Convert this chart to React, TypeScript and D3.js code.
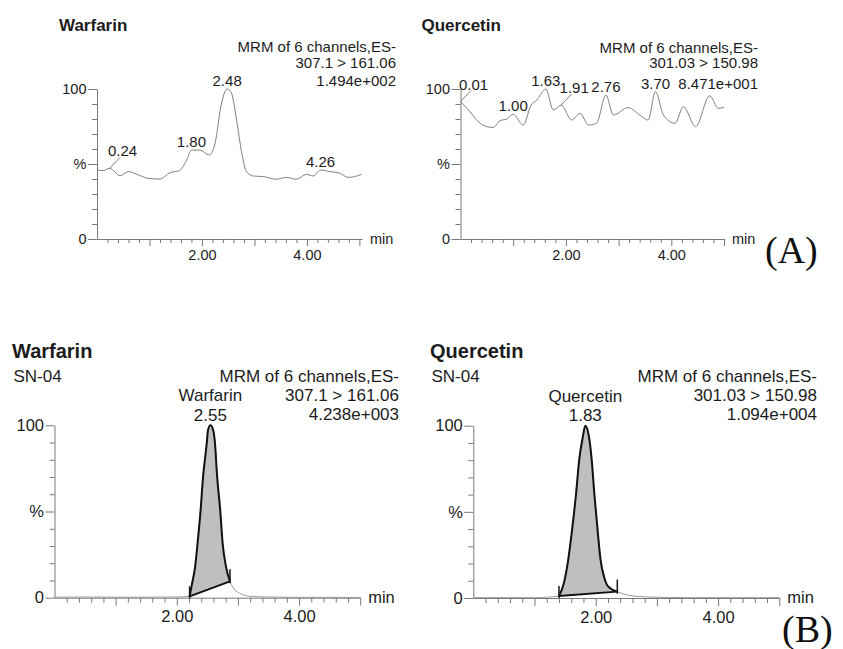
import React, { useEffect, useRef } from 'react';
import * as d3 from 'd3';

// (A) blank traces
const warfBlankT = [0, 0.12, 0.24, 0.44, 0.6, 0.76, 0.98, 1.2, 1.39, 1.57, 1.71, 1.80, 1.96, 2.14, 2.25, 2.36, 2.48, 2.56, 2.66, 2.76, 2.85, 2.98, 3.17, 3.42, 3.61, 3.80, 3.99, 4.12, 4.26, 4.44, 4.6, 4.79, 4.91, 5.04];
const warfBlankI = [46, 45.6, 47.1, 42.2, 44.9, 43.1, 40.4, 40, 44.2, 45.6, 52.7, 59.3, 59.3, 56, 63.8, 88.2, 100, 97.5, 79.3, 57.1, 44.9, 42, 41.6, 39.8, 41.1, 39.8, 43.1, 42, 46, 44.9, 44.2, 41.1, 41.6, 43.1];
const quercBlankT = [0, 0.18, 0.34, 0.5, 0.62, 0.75, 0.88, 1.00, 1.19, 1.34, 1.45, 1.62, 1.76, 1.91, 2.11, 2.27, 2.43, 2.58, 2.76, 2.90, 3.18, 3.44, 3.56, 3.70, 3.85, 4.07, 4.23, 4.46, 4.73, 4.89, 5.0];
const quercBlankI = [91.6, 84.9, 78.2, 74.9, 74.4, 78.9, 80, 83.1, 76, 89.3, 92.7, 100, 86, 89.3, 79.3, 83.8, 76, 77.1, 96, 82.7, 87.6, 81.6, 79.3, 98.2, 82.7, 77.1, 88.2, 74.9, 95.5, 87.1, 87.8];

// (B) sample SN-04 traces
const warfSampleT = [0, 0.5, 1.0, 1.5, 2.0, 2.21, 2.24, 2.30, 2.34, 2.39, 2.43, 2.49, 2.51, 2.55, 2.597, 2.625, 2.66, 2.71, 2.75, 2.805, 2.87, 2.95, 3.03, 3.2, 3.5, 4.0, 4.5, 5.0];
const warfSampleI = [0.3, 0.4, 0.3, 0.3, 0.4, 0.8, 6.4, 18, 31.5, 50.9, 70.2, 89.5, 97, 100, 97, 89.5, 70.2, 50.9, 31.5, 18, 9.5, 4.5, 2.6, 0.8, 0.4, 0.2, 0.2, 0.1];
const quercSampleT = [0, 0.5, 1.0, 1.40, 1.48, 1.55, 1.62, 1.68, 1.73, 1.79, 1.83, 1.89, 1.935, 1.977, 2.026, 2.08, 2.136, 2.206, 2.353, 2.51, 2.7, 3.0, 3.5, 4.2, 5.0];
const quercSampleI = [0.2, 0.2, 0.2, 1.1, 8.5, 22, 41.4, 60.8, 80, 93.6, 100, 93.6, 80, 60.8, 41.4, 22, 12.4, 6.6, 3.7, 1.8, 0.9, 0.4, 0.2, 0.2, 0.2];

// peak labels
const warfBlankPeaks = [{ t: 0.24, text: '0.24', leader: true }, { t: 1.80, text: '1.80' }, { t: 2.48, text: '2.48' }, { t: 4.26, text: '4.26' }];
const quercBlankPeaks = [{ t: 0, text: '0.01', leader: true }, { t: 1.00, text: '1.00' }, { t: 1.62, text: '1.63' }, { t: 1.91, text: '1.91', leader: true }, { t: 2.76, text: '2.76' }, { t: 3.70, text: '3.70' }];
const warfSamplePeak = { t: 2.55, name: 'Warfarin', text: '2.55', from: 2.21, to: 2.87 };
const quercSamplePeak = { t: 1.83, name: 'Quercetin', text: '1.83', from: 1.40, to: 2.353 };

const headerWarf = ['MRM of 6 channels,ES-', '307.1 > 161.06'];
const headerQuerc = ['MRM of 6 channels,ES-', '301.03 > 150.98'];

const minorX = d3.range(1, 26).map(i => i * 0.2).filter(v => Math.abs(v - Math.round(v)) > 0.01);
const majorX = [1, 2, 3, 4, 5];
const labelX = [2, 4];
const minorY = [10, 20, 30, 40, 60, 70, 80, 90];
const majorY = [0, 50, 100];
const labelY: Record<number, string> = { 0: '0', 50: '%', 100: '100' };

const FONT = 'Liberation Sans, Arial, sans-serif';
const TEXT = '#1c1c1c';
const AXIS = '#7a7a7a';

type Cfg = {
  t: number[]; v: number[]; title: string; titleX: number; titleY: number; titleSize: number;
  header: string[]; headerX: number; headerY: number[]; fs: number;
  xRange: [number, number]; xMax: number; yTop: number; yBottom: number;
  minorTick: number; majorTick: number; xPad: number;
  peaks?: { t: number; text: string; leader?: boolean }[];
  sample?: { t: number; name: string; text: string; from: number; to: number };
  sn?: boolean;
};

const panels: Cfg[] = [
  { t: warfBlankT, v: warfBlankI, title: 'Warfarin', titleX: 59, titleY: 30.5, titleSize: 17,
    header: [...headerWarf, '1.494e+002'], headerX: 396, headerY: [51.7, 68.3, 85.5], fs: 15,
    xRange: [97, 362], xMax: 5.05, yTop: 89, yBottom: 239, minorTick: 4, majorTick: 7, xPad: 4, peaks: warfBlankPeaks },
  { t: quercBlankT, v: quercBlankI, title: 'Quercetin', titleX: 421.5, titleY: 30.5, titleSize: 17,
    header: [...headerQuerc, '8.471e+001'], headerX: 758, headerY: [52.5, 68.3, 89], fs: 15,
    xRange: [460.5, 724], xMax: 5.0, yTop: 89, yBottom: 239, minorTick: 4, majorTick: 7, xPad: 4, peaks: quercBlankPeaks },
  { t: warfSampleT, v: warfSampleI, title: 'Warfarin', titleX: 12, titleY: 358, titleSize: 20,
    header: [...headerWarf, '4.238e+003'], headerX: 399, headerY: [381.7, 401, 420], fs: 17,
    xRange: [54.5, 360.2], xMax: 5.0, yTop: 425.3, yBottom: 597.7, minorTick: 5, majorTick: 8, xPad: 5, sample: warfSamplePeak, sn: true },
  { t: quercSampleT, v: quercSampleI, title: 'Quercetin', titleX: 430, titleY: 358, titleSize: 20,
    header: [...headerQuerc, '1.094e+004'], headerX: 817, headerY: [381.7, 401, 420], fs: 17,
    xRange: [473.3, 779.3], xMax: 5.0, yTop: 425.7, yBottom: 598, minorTick: 5, majorTick: 8, xPad: 5, sample: quercSamplePeak, sn: true },
];

function Panel({ cfg }: { cfg: Cfg }) {
  const axRef = useRef<SVGGElement>(null);
  const x = d3.scaleLinear().domain([0, cfg.xMax]).range(cfg.xRange);
  const y = d3.scaleLinear().domain([0, 100]).range([cfg.yBottom, cfg.yTop]);
  const pts = cfg.t.map((t, i) => [t, cfg.v[i]] as [number, number]);
  const valAt = (t: number) => {
    let best = pts[0];
    pts.forEach(p => { if (Math.abs(p[0] - t) < Math.abs(best[0] - t)) best = p; });
    return best[1];
  };

  useEffect(() => {
    const g = d3.select(axRef.current);
    g.selectAll('*').remove();
    const xa = g.append('g').attr('transform', `translate(0,${cfg.yBottom})`);
    xa.call(d3.axisBottom(x).tickValues(minorX).tickSize(cfg.minorTick).tickSizeOuter(0).tickFormat(() => ''));
    const xb = g.append('g').attr('transform', `translate(0,${cfg.yBottom})`);
    xb.call(d3.axisBottom(x).tickValues(majorX).tickSize(cfg.majorTick).tickPadding(cfg.xPad)
      .tickFormat((d: any) => (labelX.includes(+d) ? (+d).toFixed(2) : '')));
    xb.select('.domain').remove();
    const x0 = cfg.xRange[0];
    const ya = g.append('g').attr('transform', `translate(${x0},0)`);
    ya.call(d3.axisLeft(y).tickValues(minorY).tickSize(5).tickSizeOuter(0).tickFormat(() => ''));
    const yb = g.append('g').attr('transform', `translate(${x0},0)`);
    yb.call(d3.axisLeft(y).tickValues(majorY).tickSize(9).tickPadding(1.5).tickFormat((d: any) => labelY[+d]));
    yb.select('.domain').remove();
    g.selectAll('path, line').attr('stroke', AXIS).attr('stroke-width', 1);
    g.selectAll('g').attr('font-family', null).attr('font-size', null);
    g.selectAll('text').attr('fill', TEXT).style('font-family', FONT).style('font-size', cfg.fs - 0.5 + 'px');
  }, []);

  const line = d3.line<[number, number]>().x(d => x(d[0])).y(d => y(d[1])).curve(d3.curveMonotoneX);

  let sampleEls: React.ReactNode = null;
  if (cfg.sample) {
    const s = cfg.sample;
    const seg = pts.filter(p => p[0] >= s.from - 1e-6 && p[0] <= s.to + 1e-6);
    const v0 = valAt(s.from), v1 = valAt(s.to);
    const base = (t: number) => v0 + (v1 - v0) * (t - s.from) / (s.to - s.from);
    const area = d3.area<[number, number]>().x(d => x(d[0])).y1(d => y(d[1])).y0(d => y(base(d[0]))).curve(d3.curveMonotoneX);
    const py = y(valAt(s.t));
    sampleEls = (
      <g>
        <path d={area(seg) || ''} fill="#bfbfbf" stroke="none" />
        <path d={line(seg) || ''} fill="none" stroke="#111" strokeWidth={2} />
        <line x1={x(s.from)} y1={y(v0)} x2={x(s.to)} y2={y(v1)} stroke="#111" strokeWidth={2} />
        <line x1={x(s.from)} y1={y(v0) - 10} x2={x(s.from)} y2={y(v0) + 2} stroke="#111" strokeWidth={1.5} />
        <line x1={x(s.to)} y1={y(v1) - 12} x2={x(s.to)} y2={y(v1) + 2} stroke="#111" strokeWidth={1.5} />
        <text x={x(s.t)} y={py - 24} textAnchor="middle">{s.name}</text>
        <text x={x(s.t)} y={py - 4.5} textAnchor="middle">{s.text}</text>
      </g>
    );
  }

  return (
    <g fontFamily={FONT} fontSize={cfg.fs} fill={TEXT}>
      <text x={cfg.titleX} y={cfg.titleY} fontWeight="bold" fontSize={cfg.titleSize}>{cfg.title}</text>
      {cfg.sn && <text x={cfg.titleX + 1.5} y={cfg.headerY[0]}>SN-04</text>}
      {cfg.header.map((h, i) => (
        <text key={i} x={cfg.headerX} y={cfg.headerY[i]} textAnchor="end">{h}</text>
      ))}
      <g ref={axRef} />
      <text x={cfg.xRange[1] + 8} y={cfg.yBottom + 5} fontSize={cfg.fs - 0.5}>min</text>
      <path d={line(pts) || ''} fill="none" stroke={cfg.sample ? '#9a9a9a' : '#808080'} strokeWidth={1} />
      {sampleEls}
      {cfg.peaks && cfg.peaks.map((p, i) => {
        const px = x(p.t), py = y(valAt(p.t));
        if (p.leader) {
          return (
            <g key={i}>
              <line x1={px} y1={py} x2={px + 10.5} y2={py - 11} stroke="#808080" strokeWidth={1} />
              <text x={px + 13} y={py - 12} textAnchor="middle">{p.text}</text>
            </g>
          );
        }
        return <text key={i} x={px} y={py - 3} textAnchor="middle">{p.text}</text>;
      })}
    </g>
  );
}

export default function App() {
  return (
    <svg width={843} height={649} style={{ position: 'absolute', left: 0, top: 0, background: '#fff' }}>
      <rect width={843} height={649} fill="#fff" />
      {panels.map((c, i) => <Panel key={i} cfg={c} />)}
      <text x={765} y={263} fontFamily="Liberation Serif, Times New Roman, serif" fontSize={38} fill="#111">(A)</text>
      <text x={782} y={642} fontFamily="Liberation Serif, Times New Roman, serif" fontSize={38} fill="#111">(B)</text>
    </svg>
  );
}
